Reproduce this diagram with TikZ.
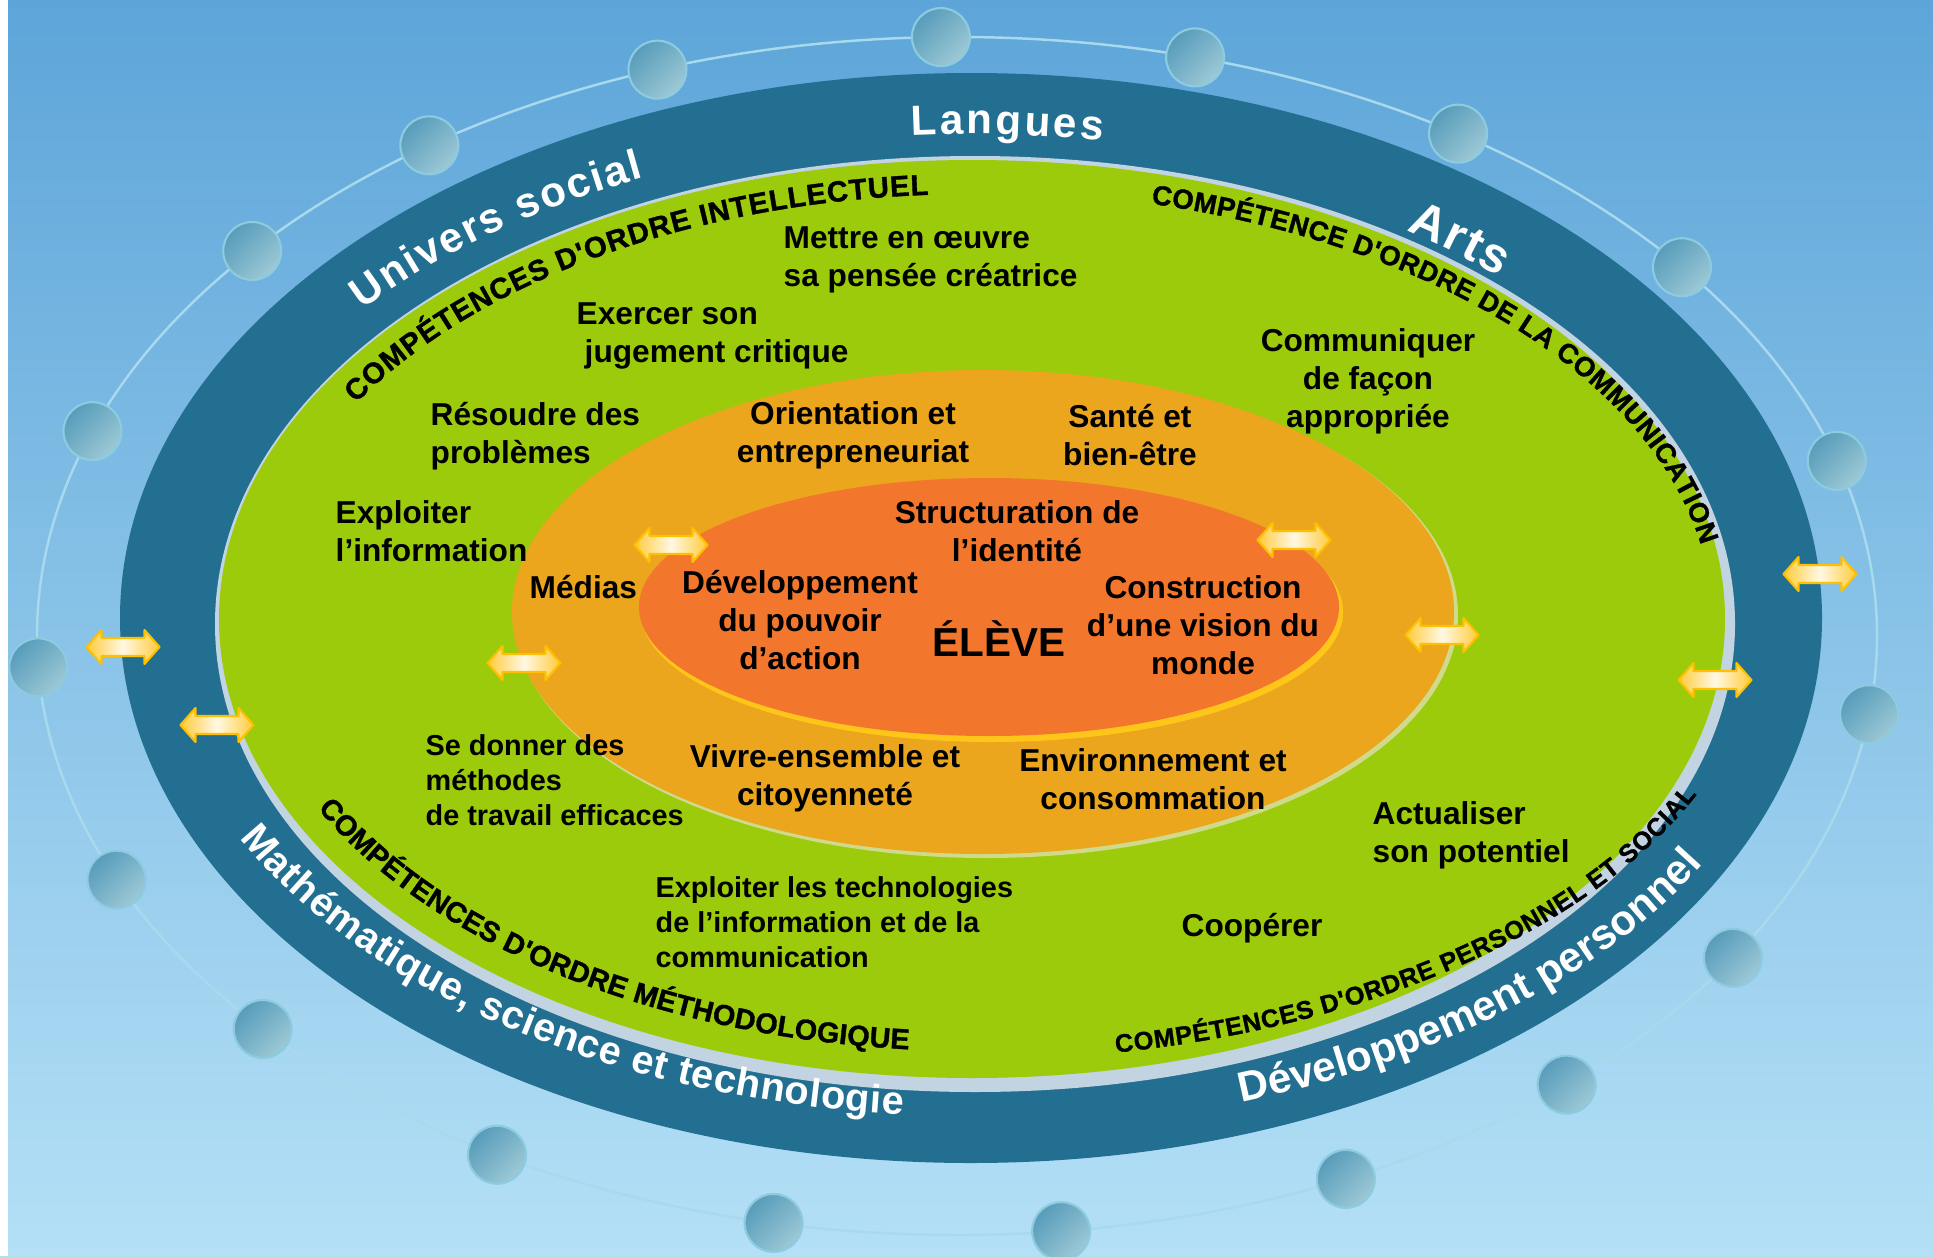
\documentclass[tikz,border=0pt]{standalone}
\usepackage{fontspec}
\setmainfont{Liberation Sans}
\newfontfamily\heavyfont[UprightFont={* Bold},FakeBold=1.2]{Liberation Sans}
\usetikzlibrary{decorations.text,shadings}
\definecolor{skyTop}{HTML}{5DA5D9}
\definecolor{skyMid}{HTML}{74C2EC}
\definecolor{skyBot}{HTML}{B4E0F6}
\definecolor{band}{HTML}{236F92}
\definecolor{rim}{HTML}{C2D3E1}
\definecolor{leaf}{HTML}{9BCB0A}
\definecolor{amber}{HTML}{EBA61E}
\definecolor{amberRim}{HTML}{CFDA8A}
\definecolor{coral}{HTML}{F2762C}
\definecolor{coralRim}{HTML}{FFC61A}
\definecolor{orbLine}{HTML}{A9D9EC}
\definecolor{orbDark}{HTML}{4A93B4}
\definecolor{orbMid}{HTML}{79B2C8}
\definecolor{orbLight}{HTML}{ACD3DC}
\definecolor{orbEdge}{HTML}{8CCBE0}
\definecolor{arrEdge}{HTML}{FFC000}
\definecolor{arrEnd}{HTML}{FFCB3A}
\definecolor{arrMid}{HTML}{FFF8E4}
\tikzset{
  lbl/.style={font=\fontsize{9}{10.8}\selectfont\bfseries, inner sep=0pt, align=center},
  lblW/.style={lbl, align=left, anchor=west},
  lblS/.style={font=\fontsize{8.2}{9.9}\selectfont\bfseries, inner sep=0pt, align=left, anchor=west},
  bandtext/.style n args={2}{decorate, decoration={text along path, text align={fit to path},
      text={|\color{white}\fontsize{#1}{#1}\selectfont\bfseries|#2}}},
  comptext/.style n args={2}{decorate, decoration={text along path, text align={fit to path},
      text={|\color{black}\fontsize{#1}{#1}\selectfont\heavyfont|#2}}},
  orb/.style={shade, upper left=orbDark, lower right=orbLight, upper right=orbMid, lower left=orbMid, draw=orbEdge, line width=0.6pt},
  dblarrow/.pic={\path[shade, left color=arrEnd, right color=arrEnd, middle color=arrMid, draw=arrEdge, line width=0.6pt, line join=round]
     (-36.5,0) -- (-21.5,17) -- (-21.5,9) -- (21.5,9) -- (21.5,17) -- (36.5,0) -- (21.5,-17) -- (21.5,-9) -- (-21.5,-9) -- (-21.5,-17) -- cycle;}
}
\begin{document}
\begin{tikzpicture}[x=0.01cm,y=0.01cm]
\useasboundingbox (0,0) rectangle (1933,1256);
% sky
\shade[top color=skyTop, middle color=skyMid, bottom color=skyBot] (0,0) rectangle (1933,1256);
\fill[white] (0,0) rectangle (8,1256);
% orbit line and spheres
\draw[orbLine, line width=0.7pt] (957,620) ellipse[x radius=920, y radius=599];
\foreach \t in {91,75,57,38,17,-7.5,-32.5,-48.5,-65,-83.5,-101.5,-120,-139,-156,-177,160,140,125,109}
  \path[orb] ({957+920*cos(\t)},{620+599*sin(\t)}) circle[radius=29];
% rings
\fill[band] (971,638) ellipse[x radius=851, y radius=545];
\fill[rim] (975,632) ellipse[x radius=760, y radius=468];
\fill[leaf] (972,637) ellipse[x radius=753, y radius=459];
\fill[amberRim] (986,641) ellipse[x radius=472, y radius=243];
\fill[amber] (983,644) ellipse[x radius=471, y radius=242];
\fill[coralRim] (992,644) ellipse[x radius=351, y radius=130];
\fill[coral] (989,649) ellipse[x radius=350, y radius=129];
% band texts
\begin{scope}[shift={(971,638)}]
  \path[bandtext={12}{Langues}] (94.3:789 and 484) arc[start angle=94.3, end angle=80.4, x radius=789, y radius=484];
  \path[bandtext={12}{Univers social}] (140.4:789 and 484) arc[start angle=140.4, end angle=114.5, x radius=789, y radius=484];
  \path[bandtext={14}{Arts}] (55.5:768 and 470) arc[start angle=55.5, end angle=46.5, x radius=768, y radius=470];
  \path[bandtext={11.3}{Mathématique, science et technologie}] (206.2:815 and 498) arc[start angle=206.2, end angle=265.2, x radius=815, y radius=498];
  \path[bandtext={12}{Développement personnel}] (-71.1:835 and 512) arc[start angle=-71.1, end angle=-29.2, x radius=835, y radius=512];
\end{scope}
% competence texts
\begin{scope}[shift={(972,637)}]
  \path[comptext={8.3}{COMPÉTENCES D'ORDRE INTELLECTUEL}] (149.5:715 and 425) arc[start angle=149.5, end angle=93.5, x radius=715, y radius=425];
  \path[comptext={7.8}{COMPÉTENCE D'ORDRE DE LA COMMUNICATION}] (76:740 and 428) arc[start angle=76, end angle=10, x radius=740, y radius=428];
  \path[comptext={8.2}{COMPÉTENCES D'ORDRE MÉTHODOLOGIQUE}] (206:728 and 432) arc[start angle=206, end angle=265, x radius=728, y radius=432];
  \path[comptext={7.2}{COMPÉTENCES D'ORDRE PERSONNEL ET SOCIAL}] (-79.5:790 and 441) arc[start angle=-79.5, end angle=-23.5, x radius=790, y radius=441];
\end{scope}
% labels
\node[lblW] (creat) at (783,996) {Mettre en œuvre\\sa pensée créatrice};
\node[lblW] (juge) at (576,920) {Exercer son\\\hspace*{0.08cm}jugement critique};
\node[lblW] (resou) at (430,820) {Résoudre des\\problèmes};
\node[lblW] (info) at (335,725) {Exploiter\\l’information};
\node[lblW] (medias) at (529,669) {Médias};
\node[lbl] (orient) at (853,821) {Orientation et\\entrepreneuriat};
\node[lbl] (sante) at (1130,821) {Santé et\\bien-être};
\node[lbl] (commu) at (1368,875) {Communiquer\\de façon\\appropriée};
\node[lbl] (ident) at (1017,725) {Structuration de\\l’identité};
\node[lbl] (pouv) at (800,636) {Développement\\du pouvoir\\d’action};
\node[lbl, font=\fontsize{11.5}{12}\selectfont\bfseries] (eleve) at (999,617) {ÉLÈVE};
\node[lbl] (vision) at (1203,631) {Construction\\d’une vision du\\monde};
\node[lblS] (methode) at (425,476) {Se donner des\\méthodes\\de travail efficaces};
\node[lbl] (vivre) at (825,478) {Vivre-ensemble et\\citoyenneté};
\node[lbl] (envir) at (1153,477) {Environnement et\\consommation};
\node[lblS] (tic) at (655,334) {Exploiter les technologies\\de l’information et de la\\communication};
\node[lblW] (actu) at (1372,421) {Actualiser\\son potentiel};
\node[lblW] (coop) at (1181,328) {Coopérer};
% double arrows
\pic at (123,609) {dblarrow};
\pic at (217,531) {dblarrow};
\pic at (524,593) {dblarrow};
\pic at (671,711) {dblarrow};
\pic at (1294,716) {dblarrow};
\pic at (1442,621) {dblarrow};
\pic at (1715,576) {dblarrow};
\pic at (1820,682) {dblarrow};
\end{tikzpicture}
\end{document}
